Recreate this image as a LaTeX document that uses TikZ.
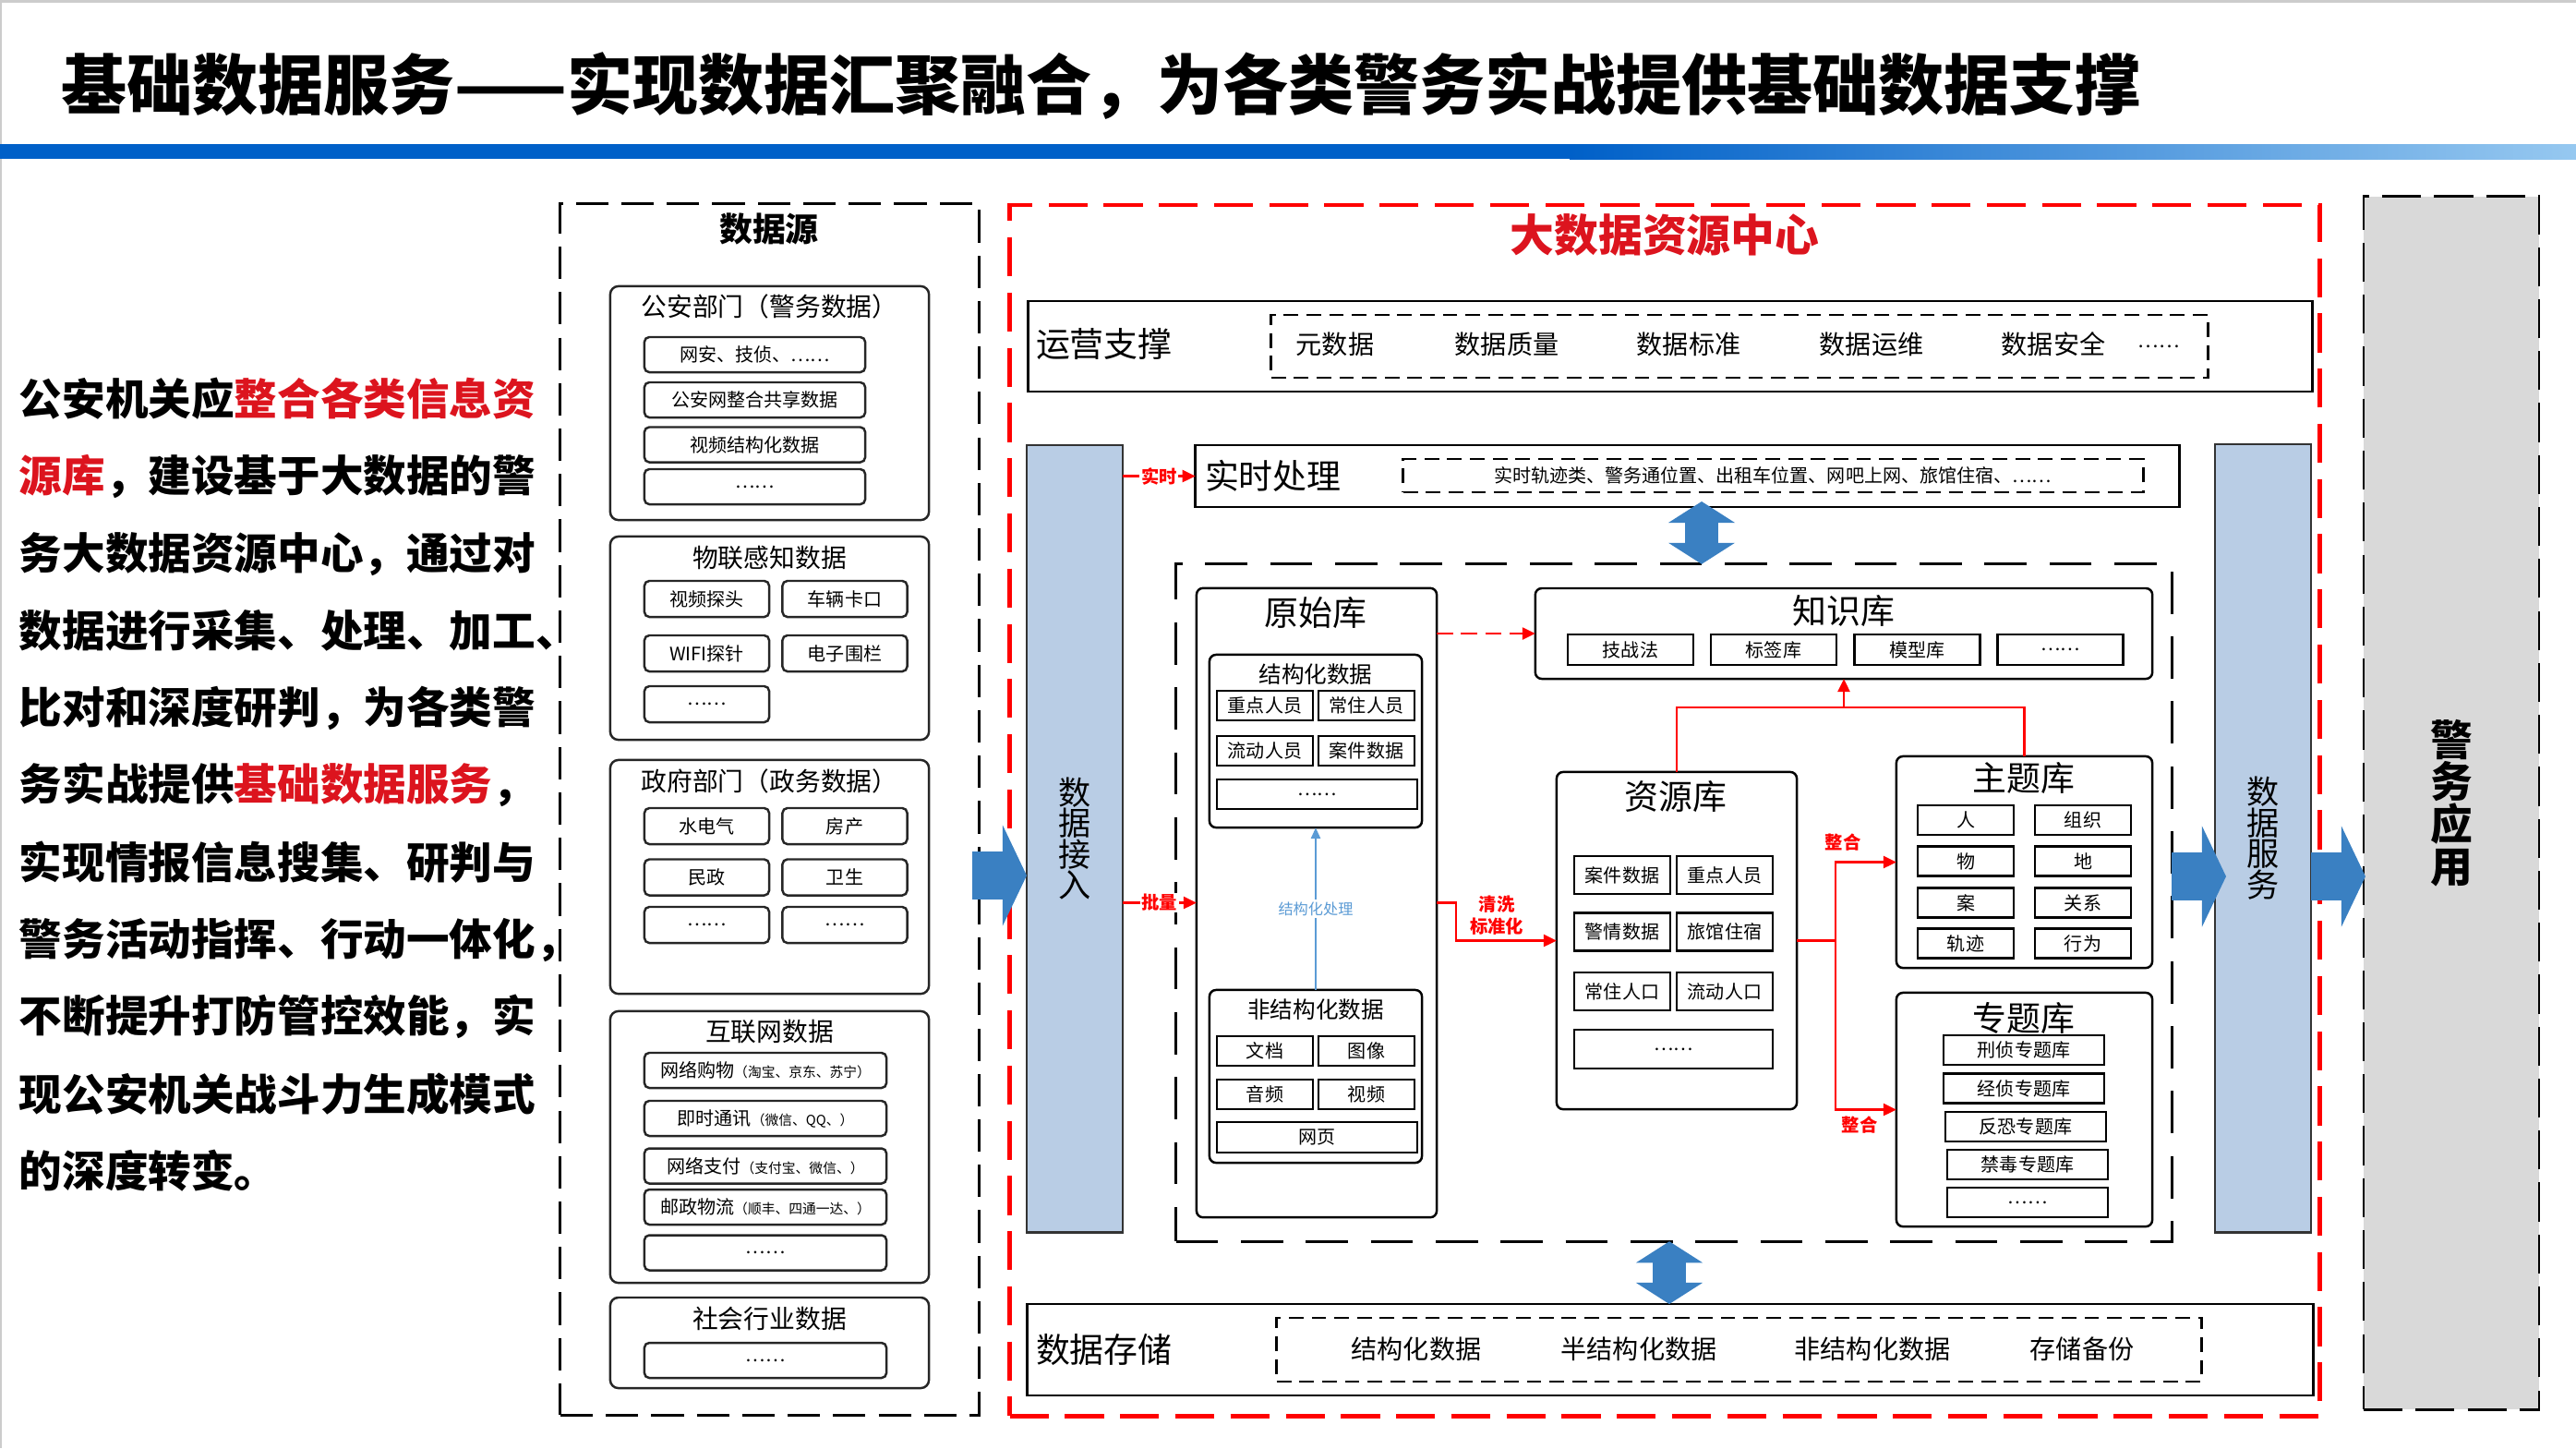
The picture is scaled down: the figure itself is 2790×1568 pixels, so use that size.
\documentclass[tikz,border=0pt]{standalone}
\usepackage{fontspec}
\setmainfont{Noto Sans CJK SC}
\usetikzlibrary{arrows.meta, positioning}
\usepackage{xcolor}

\definecolor{colblue}{RGB}{185,205,229}
\definecolor{arrowblue}{RGB}{58,128,194}
\definecolor{barblue}{RGB}{0,96,200}
\definecolor{barlight}{RGB}{150,200,240}
\definecolor{appgray}{RGB}{217,217,217}
\definecolor{txtred}{RGB}{220,20,30}
\definecolor{procblue}{RGB}{91,155,213}

\begin{document}
\begin{tikzpicture}[
    x=0.01cm, y=-0.01cm,
    every node/.style={inner sep=0pt, outer sep=0pt},
    para/.style={anchor=west, font={\fontsize{13.25}{16}\selectfont\bfseries}},
    srcframe/.style={draw, line width=0.85pt, dash pattern=on 10pt off 4pt},
    bdframe/.style={draw=red, line width=1.2pt, dash pattern=on 12pt off 5pt},
    coreframe/.style={draw, line width=0.9pt, dash pattern=on 13pt off 7pt},
    band/.style={draw, line width=0.7pt},
    bandinner/.style={draw, line width=0.8pt, dash pattern=on 4.5pt off 2.5pt},
    bandlabel/.style={anchor=west, font={\fontsize{10.5}{12}\selectfont}},
    banditem/.style={font={\fontsize{8}{9}\selectfont}},
    group/.style={draw=black!85, line width=0.7pt, rounded corners=2.5pt},
    grouptitle/.style={font={\fontsize{7.9}{9}\selectfont}},
    item/.style={draw=black!85, line width=0.7pt, rounded corners=1.5pt, font={\fontsize{5.7}{7}\selectfont}},
    srcwide/.style={item, minimum width=2.39cm, minimum height=0.38cm},
    srchalf/.style={item, minimum width=1.35cm, minimum height=0.39cm},
    netitem/.style={item, minimum width=2.62cm, minimum height=0.38cm},
    lib/.style={draw, line width=0.7pt, rounded corners=2pt},
    libtitle/.style={font={\fontsize{10.5}{12}\selectfont}},
    subtitle/.style={font={\fontsize{7}{8}\selectfont}},
    cell/.style={draw, line width=0.8pt, minimum width=1.04cm, minimum height=0.32cm, font={\fontsize{5.7}{7}\selectfont}},
    column/.style={draw=black!80, line width=0.7pt, fill=colblue, align=center, font={\fontsize{10}{9.5}\selectfont}},
    redline/.style={draw=red, line width=0.7pt},
    redarrow/.style={redline, -{Triangle[length=0.14cm,width=0.13cm]}},
    reddasharrow/.style={redarrow, dash pattern=on 5pt off 2.5pt},
    redlabel/.style={text=red, font={\fontsize{5.5}{6.8}\selectfont\bfseries}, align=center},
    procarrow/.style={draw=procblue, line width=0.7pt, -{Triangle[length=0.12cm,width=0.1cm]}},
    bigarrow/.style={draw=arrowblue, line width=0.52cm, -{Triangle[length=0.26cm,width=1.09cm,line width=0pt]}},
    dblarrow/.style={draw=arrowblue, line width=0.36cm, {Triangle[length=0.23cm,width=0.72cm,line width=0pt]}-{Triangle[length=0.23cm,width=0.72cm,line width=0pt]}}
]
\useasboundingbox (0,0) rectangle (2790,1568);

% Header
\draw[black!20, line width=1pt] (0,1568) -- (0,1) -- (2790,1);
\node[anchor=west, font={\fontsize{20.2}{22}\selectfont\bfseries}] (title) at (66,93) {基础数据服务——实现数据汇聚融合，为各类警务实战提供基础数据支撑};
\fill[barblue] (0,156) rectangle (1700,172);
\shade[left color=barblue, right color=barlight] (1700,156) rectangle (2790,172);

% Left text
\node[para] (p1) at (21,432) {公安机关应\textcolor{txtred}{整合各类信息资}};
\node[para] (p2) at (21,516) {\textcolor{txtred}{源库}，建设基于大数据的警};
\node[para] (p3) at (21,600) {务大数据资源中心，通过对};
\node[para] (p4) at (21,683) {数据进行采集、处理、加工、};
\node[para] (p5) at (21,767) {比对和深度研判，为各类警};
\node[para] (p6) at (21,850) {务实战提供\textcolor{txtred}{基础数据服务}，};
\node[para] (p7) at (21,934) {实现情报信息搜集、研判与};
\node[para] (p8) at (21,1018) {警务活动指挥、行动一体化，};
\node[para] (p9) at (21,1101) {不断提升打防管控效能，实};
\node[para] (p10) at (21,1185) {现公安机关战斗力生成模式};
\node[para] (p11) at (21,1268) {的深度转变。};

% Data sources
\node[srcframe, minimum width=4.53cm, minimum height=13.11cm] (src) at (833.5,876.5) {};
\node[font={\fontsize{10.2}{12}\selectfont\bfseries}] (srctitle) at (833,248) {数据源};

\node[group, minimum width=3.45cm, minimum height=2.53cm] (gab) at (833.5,436.5) {};
\node[grouptitle] (gabtitle) at (833.5,332) {公安部门（警务数据）};
\node[srcwide] (gab1) at (817.5,384) {网安、技侦、……};
\node[srcwide] (gab2) at (817.5,433) {公安网整合共享数据};
\node[srcwide] (gab3) at (817.5,481.5) {视频结构化数据};
\node[srcwide] (gab4) at (817.5,527) {……};

\node[group, minimum width=3.45cm, minimum height=2.2cm] (iot) at (833.5,691) {};
\node[grouptitle] (iottitle) at (833.5,604) {物联感知数据};
\node[srchalf] (iot1) at (765.5,648.5) {视频探头};
\node[srchalf] (iot2) at (915,648.5) {车辆卡口};
\node[srchalf] (iot3) at (765.5,707.5) {WIFI探针};
\node[srchalf] (iot4) at (915,707.5) {电子围栏};
\node[srchalf] (iot5) at (765.5,762.5) {……};

\node[group, minimum width=3.45cm, minimum height=2.53cm] (gov) at (833.5,949.5) {};
\node[grouptitle] (govtitle) at (833.5,846) {政府部门（政务数据）};
\node[srchalf] (gov1) at (765.5,894.5) {水电气};
\node[srchalf] (gov2) at (915,894.5) {房产};
\node[srchalf] (gov3) at (765.5,950) {民政};
\node[srchalf] (gov4) at (915,950) {卫生};
\node[srchalf] (gov5) at (765.5,1001.5) {……};
\node[srchalf] (gov6) at (915,1001.5) {……};

\node[group, minimum width=3.45cm, minimum height=2.94cm] (net) at (833.5,1242) {};
\node[grouptitle] (nettitle) at (833.5,1117) {互联网数据};
\node[netitem] (net1) at (829,1159) {网络购物{\fontsize{4.2}{5}\selectfont（淘宝、京东、苏宁）}};
\node[netitem] (net2) at (829,1211) {即时通讯{\fontsize{4.2}{5}\selectfont（微信、QQ、）}};
\node[netitem] (net3) at (829,1262.5) {网络支付{\fontsize{4.2}{5}\selectfont（支付宝、微信、）}};
\node[netitem] (net4) at (829,1307) {邮政物流{\fontsize{4.2}{5}\selectfont（顺丰、四通一达、）}};
\node[netitem] (net5) at (829,1356.5) {……};

\node[group, minimum width=3.45cm, minimum height=0.98cm] (soc) at (833.5,1454) {};
\node[grouptitle] (soctitle) at (833.5,1428) {社会行业数据};
\node[netitem] (soc1) at (829,1473) {……};

% Big data resource center
\node[bdframe, minimum width=14.18cm, minimum height=13.11cm] (bdc) at (1803,877.5) {};
\node[text=txtred, font={\fontsize{13.6}{16}\selectfont\bfseries}] (bdctitle) at (1803,254) {大数据资源中心};

% Operation support band
\node[band, minimum width=13.9cm, minimum height=0.98cm] (ops) at (1809,375) {};
\node[bandlabel] (opslabel) at (1122,373) {运营支撑};
\node[bandinner, minimum width=10.14cm, minimum height=0.68cm] (opsin) at (1884,375) {};
\node[banditem] (ops1) at (1446,373) {元数据};
\node[banditem] (ops2) at (1632,373) {数据质量};
\node[banditem] (ops3) at (1829,373) {数据标准};
\node[banditem] (ops4) at (2027,373) {数据运维};
\node[banditem] (ops5) at (2224,373) {数据安全};
\node[font={\fontsize{6}{7}\selectfont}] (ops6) at (2338,375) {……};

% Columns
\node[column, minimum width=1.04cm, minimum height=8.52cm] (in) at (1164,908) {数\\据\\接\\入};
\node[column, minimum width=1.04cm, minimum height=8.53cm] (srv) at (2451,907.5) {数\\据\\服\\务};
\node[draw, fill=appgray, line width=0.8pt, dash pattern=on 12pt off 4pt, minimum width=1.9cm, minimum height=13.13cm,
      align=center, font={\fontsize{13}{13}\selectfont\bfseries}] (app) at (2655,869.5) {警\\务\\应\\用};

% Real-time band
\node[band, minimum width=10.65cm, minimum height=0.67cm] (rt) at (1827.5,515.5) {};
\node[bandlabel] (rtlabel) at (1305,515) {实时处理};
\node[bandinner, minimum width=8.01cm, minimum height=0.36cm] (rtin) at (1920.5,515) {};
\node[font={\fontsize{5.7}{7}\selectfont}] (rttext) at (1920,515) {实时轨迹类、警务通位置、出租车位置、网吧上网、旅馆住宿、……};

% Core libraries
\node[coreframe, minimum width=10.78cm, minimum height=7.33cm] (core) at (1813,977.5) {};

\node[lib, minimum width=2.6cm, minimum height=6.81cm] (raw) at (1426,977.5) {};
\node[libtitle] (rawtitle) at (1425,664) {原始库};
\node[lib, minimum width=2.3cm, minimum height=1.87cm] (rawS) at (1425,802.5) {};
\node[subtitle] (rawStitle) at (1425,730) {结构化数据};
\node[cell] (rawS1) at (1370,764) {重点人员};
\node[cell] (rawS2) at (1480,764) {常住人员};
\node[cell] (rawS3) at (1370,813) {流动人员};
\node[cell] (rawS4) at (1480,813) {案件数据};
\node[cell, minimum width=2.17cm] (rawS5) at (1426.5,860) {……};
\node[lib, minimum width=2.3cm, minimum height=1.87cm] (rawU) at (1425,1165.5) {};
\node[subtitle] (rawUtitle) at (1425,1093) {非结构化数据};
\node[cell] (rawU1) at (1370,1138) {文档};
\node[cell] (rawU2) at (1480,1138) {图像};
\node[cell] (rawU3) at (1370,1185) {音频};
\node[cell] (rawU4) at (1480,1185) {视频};
\node[cell, minimum width=2.17cm, minimum height=0.33cm] (rawU5) at (1426.5,1231.5) {网页};

\node[lib, minimum width=6.68cm, minimum height=0.98cm] (kb) at (1997,686) {};
\node[libtitle] (kbtitle) at (1997,662) {知识库};
\node[cell, minimum width=1.36cm, minimum height=0.33cm] (kb1) at (1766,703.5) {技战法};
\node[cell, minimum width=1.36cm, minimum height=0.33cm] (kb2) at (1921,703.5) {标签库};
\node[cell, minimum width=1.36cm, minimum height=0.33cm] (kb3) at (2076.5,703.5) {模型库};
\node[cell, minimum width=1.36cm, minimum height=0.33cm] (kb4) at (2231.5,703.5) {……};

\node[lib, minimum width=2.6cm, minimum height=3.65cm] (res) at (1816,1018.5) {};
\node[libtitle] (restitle) at (1815,863) {资源库};
\node[cell, minimum height=0.41cm] (res1) at (1757,947.5) {案件数据};
\node[cell, minimum height=0.41cm] (res2) at (1868,947.5) {重点人员};
\node[cell, minimum height=0.41cm] (res3) at (1757,1009) {警情数据};
\node[cell, minimum height=0.41cm] (res4) at (1868,1009) {旅馆住宿};
\node[cell, minimum height=0.41cm] (res5) at (1757,1073.5) {常住人口};
\node[cell, minimum height=0.41cm] (res6) at (1868,1073.5) {流动人口};
\node[cell, minimum width=2.15cm, minimum height=0.42cm] (res7) at (1812.5,1136) {……};

\node[lib, minimum width=2.77cm, minimum height=2.29cm] (topic) at (2192.5,933.5) {};
\node[libtitle] (topictitle) at (2192,843) {主题库};
\node[cell] (topic1) at (2129,888) {人};
\node[cell] (topic2) at (2256,888) {组织};
\node[cell] (topic3) at (2129,932.5) {物};
\node[cell] (topic4) at (2256,932.5) {地};
\node[cell] (topic5) at (2129,977.5) {案};
\node[cell] (topic6) at (2256,977.5) {关系};
\node[cell] (topic7) at (2129,1021.5) {轨迹};
\node[cell] (topic8) at (2256,1021.5) {行为};

\node[lib, minimum width=2.77cm, minimum height=2.53cm] (spec) at (2192.5,1201.5) {};
\node[libtitle] (spectitle) at (2192,1102) {专题库};
\node[cell, minimum width=1.74cm] (spec1) at (2192,1137) {刑侦专题库};
\node[cell, minimum width=1.74cm] (spec2) at (2192,1178.5) {经侦专题库};
\node[cell, minimum width=1.74cm] (spec3) at (2194,1220) {反恐专题库};
\node[cell, minimum width=1.74cm] (spec4) at (2196,1261) {禁毒专题库};
\node[cell, minimum width=1.74cm] (spec5) at (2196,1302) {……};

% Storage band
\node[band, minimum width=13.92cm, minimum height=0.99cm] (store) at (1809,1461.5) {};
\node[bandlabel] (storelabel) at (1122,1461) {数据存储};
\node[bandinner, minimum width=10.01cm, minimum height=0.69cm] (storein) at (1883.5,1461.5) {};
\node[banditem] (store1) at (1534,1461) {结构化数据};
\node[banditem] (store2) at (1775,1461) {半结构化数据};
\node[banditem] (store3) at (2028,1461) {非结构化数据};
\node[banditem] (store4) at (2255,1461) {存储备份};

% Block arrows
\coordinate (srcout) at (1053,948);
\coordinate (coreout) at (2352,949);
\coordinate (rtdown) at (1843,543);
\draw[bigarrow] (srcout) -- (srcout -| in.west);
\draw[bigarrow] (coreout) -- ([xshift=0.12cm]coreout -| srv.west);
\draw[bigarrow] (srv.east |- coreout) -- ([xshift=0.02cm]srv.east |- coreout -| app.west);
\draw[dblarrow] (rtdown) -- (rtdown |- core.north);
\draw[dblarrow] ([xshift=-0.05cm]core.south) -- ([xshift=-0.05cm]core.south |- store.north);

% Ingest arrows
\draw[redarrow] (in.east |- rt.west) -- node[redlabel, fill=white, inner sep=0.5pt] {实时} (rt.west);
\draw[redarrow] (in.east |- raw.west) -- node[redlabel, fill=white, inner sep=0.5pt] {批量} (raw.west);

% Processing flow
\draw[procarrow] (rawU.north) -- node[fill=white, inner sep=0.8pt, text=procblue, font={\fontsize{4.6}{5.5}\selectfont}] {结构化处理} (rawS.south);
\draw[reddasharrow] (raw.north east |- kb.west) -- (kb.west);
\draw[redarrow] (raw.east) -- ++(21,0) |- (res.west);
\node[redlabel] (cleanlabel) at (1621,991) {清洗\\标准化};

\coordinate (kbjoin) at (1997,766);
\draw[redline] (res.north) |- (kbjoin);
\draw[redline] (topic.north) |- (kbjoin);
\draw[redarrow] (kbjoin) -- (kb.south);

\coordinate (split) at (1988,1018.5);
\draw[redline] (res.east) -- (split);
\draw[redarrow] (split) |- (topic.west);
\draw[redarrow] (split) |- (spec.west);
\node[redlabel] (mergeA) at (1996,912) {整合};
\node[redlabel] (mergeB) at (2014,1218) {整合};

\end{tikzpicture}
\end{document}
